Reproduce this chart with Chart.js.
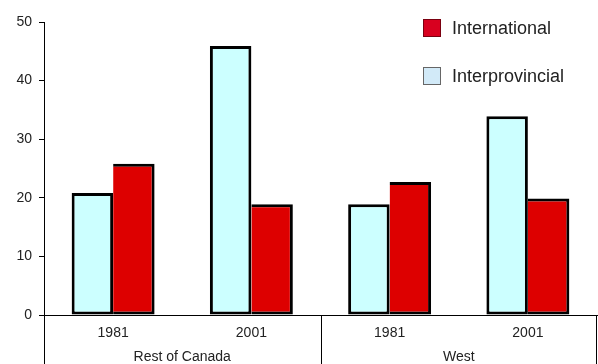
<!DOCTYPE html>
<html>
<head>
<meta charset="utf-8">
<script src="https://cdn.jsdelivr.net/npm/chart.js@4/dist/chart.umd.min.js"></script>
<style>
  html, body { margin: 0; padding: 0; background: #fff; }
  #wrap { position: relative; width: 598px; height: 364px; }
  #chart { position: absolute; left: 0; top: 0; }
  .legend { position: absolute; left: 423px; font-family: "Liberation Sans", Arial, sans-serif; font-size: 18px; color: #222; }
  .legend .item { position: absolute; left: 0; white-space: nowrap; height: 18px; line-height: 18px; }
  .legend .sw { position: absolute; left: 0; top: 0; width: 16px; height: 16px; border: 1px solid #555; }
  .legend .txt { position: absolute; left: 29px; top: 0px; }
</style>
</head>
<body>
<div id="wrap">
  <canvas id="chart" width="598" height="364"></canvas>
  <div class="legend" id="legend"></div>
</div>
<script>
// Years within each region
const years = ['1981', '2001', '1981', '2001'];
// Regions, each spanning two years
const regions = ['Rest of Canada', 'West'];
// Migration values per series (same order as years)
const interprovincial = [20.8, 45.9, 18.9, 33.9];
const international = [25.8, 18.9, 22.7, 19.9];
// Value axis ticks
const yTicks = [0, 10, 20, 30, 40, 50];

const FONT = "'Liberation Sans', Arial, sans-serif";

// Legend (listed International first)
const legendItems = [
  { label: 'International', fill: '#d8001f', border: '#7a0010', top: 19 },
  { label: 'Interprovincial', fill: '#d2eaf8', border: '#666', top: 67 }
];
const legendEl = document.getElementById('legend');
legendItems.forEach(it => {
  const d = document.createElement('div');
  d.className = 'item';
  d.style.top = it.top + 'px';
  d.innerHTML = '<span class="sw" style="background:' + it.fill + ';border-color:' + it.border + '"></span><span class="txt">' + it.label + '</span>';
  legendEl.appendChild(d);
});

// Region separators below the category axis
const separators = {
  id: 'separators',
  afterDraw(chart) {
    const { ctx, chartArea, scales } = chart;
    const x = scales.x;
    const h = chart.height;
    const xs = [chartArea.left, x.getPixelForValue(1.5), chartArea.right - 1];
    ctx.save();
    ctx.strokeStyle = '#000';
    ctx.lineWidth = 1;
    xs.forEach(px => {
      const p = Math.round(px) + 0.5;
      ctx.beginPath();
      ctx.moveTo(p, chartArea.bottom);
      ctx.lineTo(p, h);
      ctx.stroke();
    });
    ctx.restore();
  }
};

new Chart(document.getElementById('chart'), {
  type: 'bar',
  data: {
    labels: years,
    datasets: [
      {
        label: 'Interprovincial',
        data: interprovincial,
        backgroundColor: '#ccffff',
        borderColor: '#000',
        borderWidth: { top: 3, left: 3, right: 3, bottom: 3 },
        borderSkipped: false
      },
      {
        label: 'International',
        data: international,
        backgroundColor: '#dd0000',
        borderColor: '#000',
        borderWidth: { top: 3, left: 0, right: 3, bottom: 3 },
        borderSkipped: false
      }
    ]
  },
  options: {
    responsive: false,
    animation: false,
    devicePixelRatio: 1,
    layout: { padding: { top: 22, right: 1, bottom: 0, left: 0 } },
    categoryPercentage: 0.6,
    barPercentage: 1,
    plugins: {
      legend: { display: false },
      tooltip: { enabled: false }
    },
    scales: {
      y: {
        min: 0,
        max: 50,
        afterBuildTicks(scale) { scale.ticks = yTicks.map(v => ({ value: v })); },
        afterFit(scale) { scale.width = 44; },
        grid: { drawOnChartArea: false, drawTicks: true, tickLength: 5, color: '#000', lineWidth: 1 },
        border: { display: true, color: '#000', width: 1 },
        ticks: { color: '#222', padding: 7, font: { family: FONT, size: 14 } }
      },
      x: {
        position: 'bottom',
        afterFit(scale) { scale.height = 24; },
        grid: { display: false, drawTicks: false },
        border: { display: true, color: '#000', width: 1 },
        ticks: { color: '#222', padding: 10, maxRotation: 0, font: { family: FONT, size: 14 } }
      },
      x2: {
        type: 'category',
        position: 'bottom',
        labels: regions,
        afterFit(scale) { scale.height = 25; },
        grid: { display: false, drawTicks: false },
        border: { display: false },
        ticks: { color: '#222', padding: 10, maxRotation: 0, font: { family: FONT, size: 14 } }
      }
    }
  },
  plugins: [separators]
});
</script>
</body>
</html>
